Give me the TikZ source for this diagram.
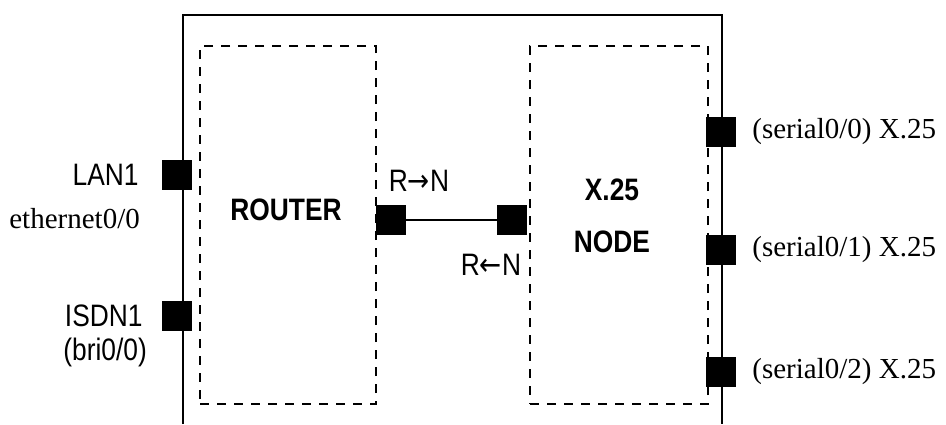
\documentclass[tikz,border=0pt]{standalone}
\usepackage{fontspec}
\setmainfont{Liberation Serif}
\setsansfont{Liberation Sans}[FakeStretch=0.85]
\newfontfamily\arrowfont{DejaVu Sans}[FakeStretch=0.85]
\usetikzlibrary{positioning}

\begin{document}
\begin{tikzpicture}[
  x=1pt, y=-1pt,
  port/.style={rectangle, fill=black, minimum size=30pt, inner sep=0pt},
  part/.style={rectangle, draw, line width=1.5pt,
               dash pattern=on 9pt off 8pt, inner sep=0pt},
  sanslbl/.style={font=\fontsize{31}{34}\sffamily, inner sep=0pt},
  seriflbl/.style={font=\fontsize{29}{32}\selectfont, inner sep=0pt},
  title/.style={font=\fontsize{31}{34}\sffamily\bfseries, inner sep=0pt}
]
  \useasboundingbox (0,0) rectangle (946,424);

  % Outer device (open at the bottom)
  \draw[line width=2pt] (183,424) -- (183,15) -- (722,15) -- (722,424);

  % Router and X.25 node
  \node[part, minimum width=176pt, minimum height=358pt] (router) at (288,225) {};
  \node[part, minimum width=178pt, minimum height=358pt] (xnode)  at (619,225) {};
  \node[title] (rtitle) at (286,210) {ROUTER};
  \node[title] (xtitle) at (612,190) {X.25};
  \node[title] (ntitle) at (612,242) {NODE};

  % Ports
  \node[port] (lan)   at (177,175) {};
  \node[port] (isdn)  at (177,316) {};
  \node[port] (rport) at (391,220) {};
  \node[port] (nport) at (512,220) {};
  \node[port] (s0)    at (721,132) {};
  \node[port] (s1)    at (721,250) {};
  \node[port] (s2)    at (721,372) {};

  % Internal link
  \draw[line width=1.5pt] (rport) -- (nport);
  \node[sanslbl] (rton) at (419,181) {R{\arrowfont →}N};
  \node[sanslbl] (ntor) at (491,265) {R{\arrowfont ←}N};

  % Left interfaces
  \node[sanslbl, left=23pt of lan]          (lanlbl)  {LAN1};
  \node[seriflbl, anchor=east] (eth)  at (140,219) {ethernet0/0};
  \node[sanslbl, left=19pt of isdn]         (isdnlbl) {ISDN1};
  \node[sanslbl, anchor=east]  (bri)  at (147,352) {(bri0/0)};

  % Serial interfaces
  \node[seriflbl, right=16pt of s0] (s0lbl) {(serial0/0) X.25};
  \node[seriflbl, right=16pt of s1] (s1lbl) {(serial0/1) X.25};
  \node[seriflbl, right=16pt of s2] (s2lbl) {(serial0/2) X.25};
\end{tikzpicture}
\end{document}
